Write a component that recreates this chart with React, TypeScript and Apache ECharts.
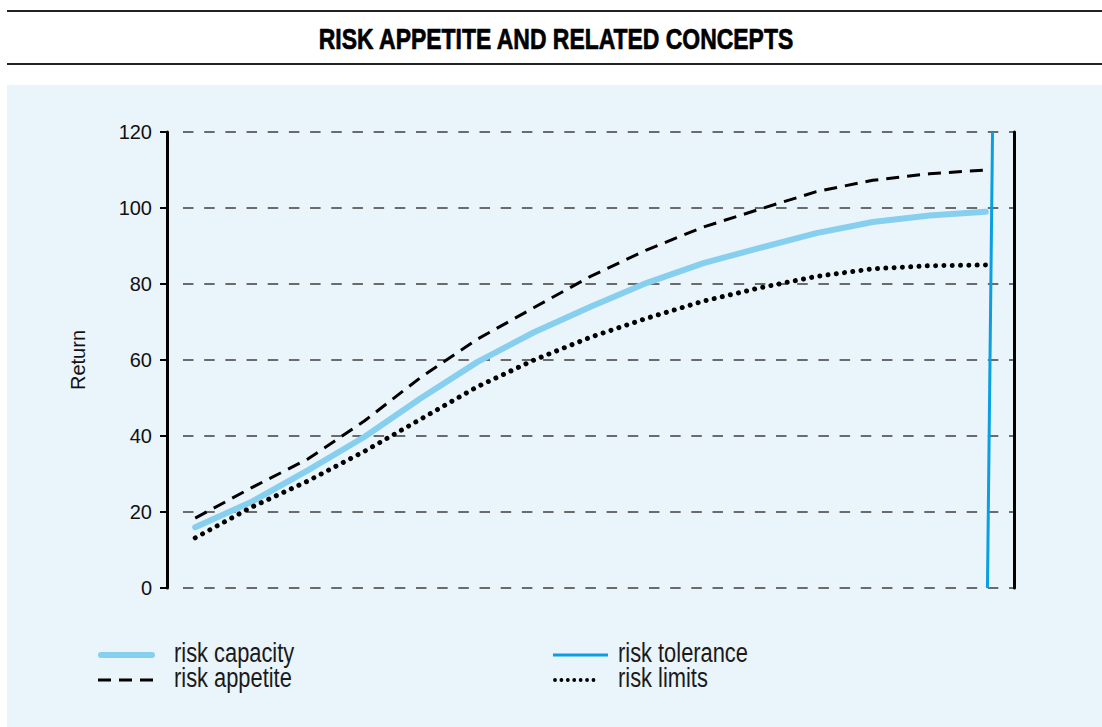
import React, { useEffect, useRef } from "react";
import * as echarts from "echarts";

const titleText = "RISK APPETITE AND RELATED CONCEPTS";
const yAxisName = "Return";
const xPositions = [0.5, 1.5, 2.5, 3.5, 4.5, 5.5, 6.5, 7.5, 8.5, 9.5, 10.5, 11.5, 12.5, 13.5, 14.5];
const riskCapacity = [16, 22.7, 31, 39.8, 50, 59.5, 67.3, 74, 80.3, 85.5, 89.5, 93.4, 96.3, 98, 99];
const riskAppetite = [18.4, 26.4, 34, 44, 55.5, 65.5, 73.8, 82, 89, 95, 99.7, 104.3, 107.3, 109, 110];
const riskLimits = [13.2, 21.3, 28.2, 36, 44.5, 53, 60, 66, 71, 75.5, 79, 82, 84, 84.8, 85];
const riskTolerance = [[14.53, 0], [14.62, 120]];
const seriesNames = ["risk capacity", "risk appetite", "risk tolerance", "risk limits"];

const SANS = "'Liberation Sans', Arial, sans-serif";
const C_CAPACITY = "#87cfef";
const C_TOLERANCE = "#0a9fe0";
const APPETITE_DASH = [13, 8];
const LIMITS_DASH = [0.01, 8.3];

function pairs(vals: number[]) {
  return vals.map((v, i) => [xPositions[i], v]);
}

// split-line dash pattern: leading gap, then regular dashes
const gridDash: number[] = [0.001, 16];
for (let i = 0; i < 41; i++) gridDash.push(10.5, 10.68);

function legendText(text: string, x: number, y: number) {
  return {
    type: "text",
    x,
    y,
    scaleX: 0.81,
    style: {
      text,
      fontFamily: SANS,
      fontSize: 27,
      fill: "#1a1a1a",
      textAlign: "left",
      textVerticalAlign: "middle",
    },
  };
}

export default function App() {
  const ref = useRef<HTMLDivElement>(null);
  useEffect(() => {
    if (!ref.current) return;
    const chart = echarts.init(ref.current, null, { renderer: "svg" });
    chart.setOption({
      animation: false,
      backgroundColor: "#ffffff",
      graphic: [
        {
          type: "rect",
          z: -100,
          silent: true,
          shape: { x: 7, y: 85, width: 1095, height: 642 },
          style: { fill: "#eaf4fb" },
        },
        {
          type: "line",
          shape: { x1: 7, y1: 11, x2: 1102, y2: 11 },
          style: { stroke: "#222", lineWidth: 2 },
        },
        {
          type: "line",
          shape: { x1: 7, y1: 64, x2: 1102, y2: 64 },
          style: { stroke: "#222", lineWidth: 2 },
        },
        {
          type: "text",
          x: 556,
          y: 38.5,
          scaleX: 0.765,
          style: {
            text: titleText,
            fontFamily: SANS,
            fontWeight: "bold",
            fontSize: 30,
            fill: "#000",
            stroke: "#000",
            lineWidth: 0.7,
            textAlign: "center",
            textVerticalAlign: "middle",
          },
        },
        // legend
        {
          type: "line",
          shape: { x1: 101, y1: 655, x2: 152, y2: 655 },
          style: { stroke: C_CAPACITY, lineWidth: 6, lineCap: "round" },
        },
        {
          type: "line",
          shape: { x1: 98, y1: 680, x2: 155, y2: 680 },
          style: { stroke: "#000", lineWidth: 3, lineDash: APPETITE_DASH },
        },
        {
          type: "line",
          shape: { x1: 553, y1: 655, x2: 608, y2: 655 },
          style: { stroke: C_TOLERANCE, lineWidth: 3 },
        },
        {
          type: "line",
          shape: { x1: 555, y1: 680, x2: 594, y2: 680 },
          style: { stroke: "#000", lineWidth: 3.8, lineDash: [0.01, 6.4], lineCap: "round" },
        },
        legendText(seriesNames[0], 174, 652.4),
        legendText(seriesNames[1], 174, 677.4),
        legendText(seriesNames[2], 618, 652.4),
        legendText(seriesNames[3], 618, 677.4),
      ],
      grid: { left: 167, right: 88, top: 132, bottom: 139 },
      xAxis: {
        type: "value",
        min: 0,
        max: 15,
        axisLine: { show: false },
        axisTick: { show: false },
        axisLabel: { show: false },
        splitLine: { show: false },
      },
      yAxis: [
        {
          type: "value",
          min: 0,
          max: 120,
          interval: 20,
          name: yAxisName,
          nameLocation: "middle",
          nameGap: 79,
          nameTextStyle: { fontFamily: SANS, fontSize: 20, color: "#111" },
          axisLine: { show: true, lineStyle: { color: "#000", width: 3 } },
          axisTick: { show: true, length: 7, lineStyle: { color: "#000", width: 2 } },
          axisLabel: { fontFamily: SANS, fontSize: 20, color: "#111", margin: 15 },
          splitLine: {
            show: true,
            lineStyle: { color: "#6b6b6b", width: 2, type: gridDash },
          },
        },
        {
          type: "value",
          min: 0,
          max: 120,
          interval: 20,
          position: "right",
          axisLine: { show: true, lineStyle: { color: "#000", width: 3 } },
          axisTick: { show: false },
          axisLabel: { show: false },
          splitLine: { show: false },
        },
      ],
      series: [
        {
          name: seriesNames[0],
          type: "line",
          data: pairs(riskCapacity),
          symbol: "none",
          lineStyle: { color: C_CAPACITY, width: 6, cap: "round", join: "round" },
          itemStyle: { color: C_CAPACITY },
        },
        {
          name: seriesNames[1],
          type: "line",
          data: pairs(riskAppetite),
          symbol: "none",
          lineStyle: { color: "#000", width: 3, type: APPETITE_DASH },
          itemStyle: { color: "#000" },
        },
        {
          name: seriesNames[3],
          type: "line",
          data: pairs(riskLimits),
          symbol: "none",
          lineStyle: { color: "#000", width: 5, type: LIMITS_DASH, cap: "round" },
          itemStyle: { color: "#000" },
        },
        {
          name: seriesNames[2],
          type: "line",
          data: riskTolerance,
          symbol: "none",
          lineStyle: { color: C_TOLERANCE, width: 3 },
          itemStyle: { color: C_TOLERANCE },
        },
      ],
    });
    return () => chart.dispose();
  }, []);
  return (
    <div
      ref={ref}
      style={{ position: "fixed", left: 0, top: 0, width: 1102, height: 727 }}
    />
  );
}
